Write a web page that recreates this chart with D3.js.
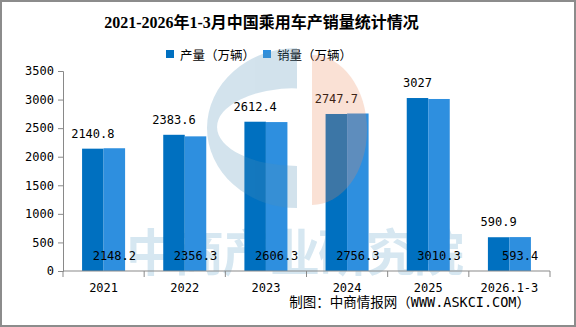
<!DOCTYPE html>
<html>
<head>
<meta charset="utf-8">
<script src="https://cdn.jsdelivr.net/npm/d3@7"></script>
<style>
  body { margin: 0; background: #fff; }
  svg { display: block; }
</style>
</head>
<body>
<div id="chartDiv"></div>
<script>
// data
var categories = ["2021", "2022", "2023", "2024", "2025", "2026.1-3"];
var production = [2140.8, 2383.6, 2612.4, 2747.7, 3027, 590.9];
var sales = [2148.2, 2356.3, 2606.3, 2756.3, 3010.3, 593.4];
var seriesNames = ["产量（万辆）", "销量（万辆）"];
var yTicks = [0, 500, 1000, 1500, 2000, 2500, 3000, 3500];

const width = 576, height = 327;
const margin = {top: 71, right: 26, bottom: 56, left: 63};
const colors = ["#0070C0", "#2E8FDF"];
const numFont = "'DejaVu Sans Mono', monospace";
const cjkFont = "'Noto Sans CJK SC', sans-serif";

let svg = d3.select("#chartDiv")
     .append("svg")
     .attr("width", width)
     .attr("height", height);

// outer frame
svg.append("rect")
     .attr("x", 1).attr("y", 1)
     .attr("width", width - 2).attr("height", height - 2)
     .attr("fill", "#fff")
     .attr("stroke", "#8c8c8c")
     .attr("stroke-width", 2);

// scales
let x0 = d3.scaleBand()
     .domain(categories)
     .range([margin.left, width - margin.right])
     .paddingInner(0.47)
     .paddingOuter(0.235);
let x1 = d3.scaleBand()
     .domain([0, 1])
     .range([0, x0.bandwidth()]);
let y = d3.scaleLinear()
     .domain([0, 3500])
     .range([height - margin.bottom, margin.top]);

// watermark text (sits behind the bars)
svg.append("text")
     .attr("x", 126)
     .attr("y", 271)
     .attr("font-family", cjkFont)
     .attr("font-size", 50)
     .attr("font-weight", 700)
     .attr("letter-spacing", -2)
     .attr("fill", "#d6e7f1")
     .text("中商产业研究院");

// title
svg.append("text")
     .attr("x", 261.5)
     .attr("y", 28)
     .attr("text-anchor", "middle")
     .attr("font-family", "'Liberation Serif', 'Noto Sans CJK SC', serif")
     .attr("font-size", 16)
     .attr("font-weight", "bold")
     .text("2021-2026年1-3月中国乘用车产销量统计情况");

// legend
let legend = svg.selectAll(".legend")
     .data(seriesNames)
     .enter()
     .append("g")
     .attr("transform", function(d, i) { return "translate(" + (166 + i * 97) + ",50)"; });
legend.append("rect")
     .attr("width", 8).attr("height", 8)
     .attr("fill", function(d, i) { return colors[i]; });
legend.append("text")
     .attr("x", 14)
     .attr("y", 9.5)
     .attr("font-family", cjkFont)
     .attr("font-size", 12.5)
     .text(function(d) { return d; });

// bars
let groups = svg.selectAll(".group")
     .data(categories)
     .enter()
     .append("g")
     .attr("transform", function(d) { return "translate(" + x0(d) + ",0)"; });

groups.selectAll("rect")
     .data(function(d, i) { return [production[i], sales[i]]; })
     .enter()
     .append("rect")
       .attr("x", function(d, j) { return x1(j); })
       .attr("y", function(d) { return y(d); })
       .attr("width", x1.bandwidth())
       .attr("height", function(d) { return y(0) - y(d); })
       .attr("fill", function(d, j) { return colors[j]; });

// y axis
let yAxis = svg.append("g")
     .attr("transform", "translate(" + margin.left + ",0)")
     .call(d3.axisLeft(y).tickValues(yTicks).tickSize(5).tickPadding(4).tickFormat(d3.format("d")));
yAxis.select(".domain").attr("stroke", "#898989");
yAxis.selectAll(".tick line").attr("stroke", "#898989");
yAxis.selectAll("text")
     .attr("font-family", numFont)
     .attr("font-size", 12)
     .attr("fill", "#000");

// x axis: line, ticks between categories, labels in the middle
let xBase = y(0);
svg.append("line")
     .attr("x1", margin.left).attr("x2", width - margin.right)
     .attr("y1", xBase).attr("y2", xBase)
     .attr("stroke", "#898989");
svg.selectAll(".xtick")
     .data(d3.range(categories.length + 1))
     .enter()
     .append("line")
     .attr("x1", function(i) { return margin.left + i * x0.step(); })
     .attr("x2", function(i) { return margin.left + i * x0.step(); })
     .attr("y1", xBase).attr("y2", xBase + 6)
     .attr("stroke", "#898989");
svg.selectAll(".xlabel")
     .data(categories)
     .enter()
     .append("text")
     .attr("x", function(d) { return x0(d) + x0.bandwidth() / 2; })
     .attr("y", xBase + 21)
     .attr("text-anchor", "middle")
     .attr("font-family", numFont)
     .attr("font-size", 12)
     .text(function(d) { return d; });

// value labels: production above bar, sales near the bottom
groups.append("text")
     .attr("x", x1(0) + x1.bandwidth() / 2)
     .attr("y", function(d, i) { return y(production[i]) - 11; })
     .attr("text-anchor", "middle")
     .attr("font-family", numFont)
     .attr("font-size", 12)
     .text(function(d, i) { return String(production[i]); });
groups.append("text")
     .attr("x", x1(1) + x1.bandwidth() / 2)
     .attr("y", xBase - 11)
     .attr("text-anchor", "middle")
     .attr("font-family", numFont)
     .attr("font-size", 12)
     .text(function(d, i) { return String(sales[i]); });

// logo watermark, drawn on top with low opacity
let logo = svg.append("g").attr("opacity", 0.25);
// blue "C": left half of an ellipse with a flatter half-ellipse cut out
logo.append("path")
     .attr("fill-rule", "evenodd")
     .attr("fill", "#4f8fb8")
     .attr("d", "M297,48 A90,80 0 0 0 297,208 Z M297,88 A80,39 0 0 0 297,166 Z");
// orange right half
logo.append("path")
     .attr("fill", "#ee8a5c")
     .attr("d", "M312,55 A55,75 0 0 1 312,205 Z");

// source note
svg.append("text")
     .attr("x", 530)
     .attr("y", 307)
     .attr("text-anchor", "end")
     .attr("font-family", "'DejaVu Sans Mono', 'Noto Sans CJK SC', monospace")
     .attr("font-size", 13.5)
     .text("制图：中商情报网（WWW.ASKCI.COM）");
</script>
</body>
</html>
